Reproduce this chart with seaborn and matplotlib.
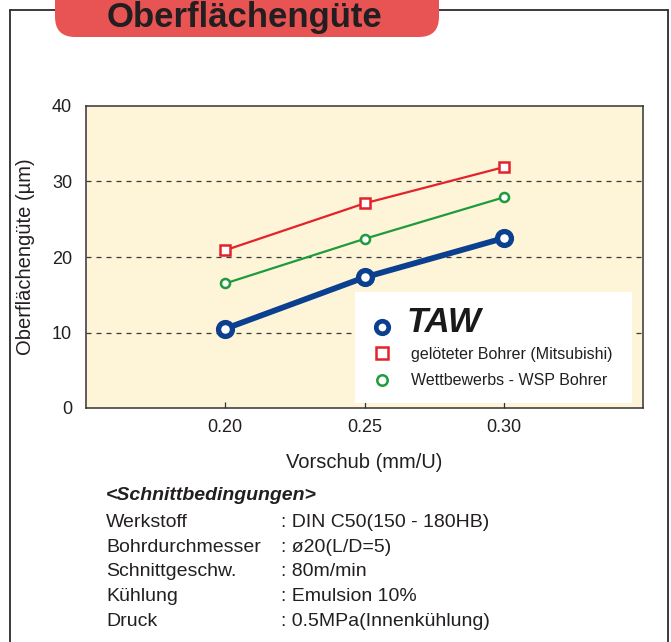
import matplotlib
matplotlib.use('Agg')
import matplotlib.pyplot as plt
import seaborn as sns
import pandas as pd
from matplotlib.lines import Line2D
from matplotlib.patches import FancyBboxPatch, Rectangle

# Data
feed = [0.20, 0.25, 0.30]
taw = [10.5, 17.3, 22.5]
mitsubishi = [20.9, 27.1, 31.9]
wsp = [16.5, 22.4, 27.9]
series_names = ['TAW', 'gelöteter Bohrer (Mitsubishi)', 'Wettbewerbs - WSP Bohrer']
y_ticks = [0, 10, 20, 30, 40]
x_ticks = [0.20, 0.25, 0.30]
x_ticklabels = ['0.20', '0.25', '0.30']
cond_keys = ['Werkstoff', 'Bohrdurchmesser', 'Schnittgeschw.', 'Kühlung', 'Druck']
cond_vals = [': DIN C50(150 - 180HB)', ': ø20(L/D=5)', ': 80m/min', ': Emulsion 10%', ': 0.5MPa(Innenkühlung)']

blue = '#0b3f8f'
red = '#e2232b'
green = '#1e9b3c'
text_col = '#231f20'

# Theme and fonts
sns.set_theme(style='white')
plt.rcParams['font.family'] = ['Liberation Sans', 'DejaVu Sans']

W, H = 671, 642
fig = plt.figure(figsize=(W / 100, H / 100), dpi=100)

def fx(px):
    return px / W

def fy(py):
    return (H - py) / H

# Axes placed like the reference (pixel box 86..643 x 106..408)
AX_L, AX_R, AX_T, AX_B = 86, 643, 106, 408
ax = fig.add_axes([fx(AX_L), fy(AX_B), fx(AX_R) - fx(AX_L), fy(AX_T) - fy(AX_B)])
ax.set_facecolor('#fef4d8')

def ax_x(px):
    return (px - AX_L) / (AX_R - AX_L)

def ax_y(py):
    return (AX_B - py) / (AX_B - AX_T)

df = pd.DataFrame({'Vorschub': feed * 3,
                   'Wert': taw + mitsubishi + wsp,
                   'Serie': [series_names[0]] * 3 + [series_names[1]] * 3 + [series_names[2]] * 3})

styles = {
    series_names[1]: dict(color=red, lw=1.6, marker='s', ms=7, mew=1.8, z=3),
    series_names[2]: dict(color=green, lw=1.6, marker='o', ms=6.5, mew=1.8, z=3),
    series_names[0]: dict(color=blue, lw=4.2, marker='o', ms=10, mew=3.8, z=4),
}
for name, st in styles.items():
    sub = df[df['Serie'] == name]
    sns.lineplot(data=sub, x='Vorschub', y='Wert', ax=ax, color=st['color'], lw=st['lw'],
                 marker=st['marker'], ms=st['ms'], mfc='white', mec=st['color'], mew=st['mew'],
                 zorder=st['z'], legend=False)

ax.set_xlim(0.15, 0.35)
ax.set_ylim(0, 40)
ax.set_xticks(x_ticks)
ax.set_xticklabels(x_ticklabels)
ax.set_yticks(y_ticks)
for yv in y_ticks[1:-1]:
    ax.axhline(yv, color='#3a3a3a', lw=0.9, ls=(0, (4, 4)), zorder=1)

ax.tick_params(axis='x', direction='in', length=4, width=0.9, color='#333333',
               labelsize=13, pad=8, labelcolor=text_col, bottom=True)
ax.tick_params(axis='y', length=0, labelsize=13, pad=10, labelcolor=text_col)
for sp in ax.spines.values():
    sp.set_color('#333333')
    sp.set_linewidth(1.1)

ax.set_xlabel('Vorschub (mm/U)', fontsize=14.5, color=text_col, labelpad=12)
ax.set_ylabel('Oberflächengüte (µm)', fontsize=14.5, color=text_col, labelpad=12)

# Legend: white panel + two legend blocks
ax.add_patch(Rectangle((ax_x(355), ax_y(403)), ax_x(632) - ax_x(355), ax_y(292) - ax_y(403),
                       transform=ax.transAxes, facecolor='white', edgecolor='none', zorder=5))

leg_kw = dict(loc='center left', borderaxespad=0, borderpad=0, frameon=False,
              fontsize=11.5, handlelength=1.0)
leg1 = ax.legend([Line2D([], [], ls='none', marker='o', ms=9, mfc='white', mec=blue, mew=3.4)],
                 series_names[:1], bbox_to_anchor=(ax_x(374), ax_y(323)),
                 handletextpad=1.05, **leg_kw)
t = leg1.get_texts()[0]
t.set_fontsize(25)
t.set_fontweight('bold')
t.set_fontstyle('italic')
t.set_color('#1a1a1a')
leg1.set_zorder(6)
ax.add_artist(leg1)

leg2 = ax.legend([Line2D([], [], ls='none', marker='s', ms=8, mfc='white', mec=red, mew=1.8),
                  Line2D([], [], ls='none', marker='o', ms=7.5, mfc='white', mec=green, mew=1.8)],
                 series_names[1:], bbox_to_anchor=(ax_x(374), ax_y(367.5)),
                 handletextpad=1.31, labelspacing=0.75, **leg_kw)
for t in leg2.get_texts():
    t.set_color(text_col)
leg2.set_zorder(6)

# Outer frame
frame_kw = dict(color='#2b2b2b', lw=1.3, transform=fig.transFigure, zorder=0)
fig.add_artist(Line2D([fx(9.5), fx(9.5)], [fy(9.5), fy(H + 5)], **frame_kw))
fig.add_artist(Line2D([fx(9.5), fx(668)], [fy(9.5), fy(9.5)], **frame_kw))
fig.add_artist(Line2D([fx(668), fx(668)], [fy(9.5), fy(H + 5)], **frame_kw))

# Title badge
badge = FancyBboxPatch((fx(55), fy(37)), fx(439) - fx(55), fy(-30) - fy(37),
                       boxstyle='round,pad=0,rounding_size=0.03',
                       transform=fig.transFigure, facecolor='#e85454', edgecolor='none',
                       zorder=2, mutation_aspect=W / H)
fig.add_artist(badge)
fig.text(fx(244), fy(26.5), 'Oberflächengüte', fontsize=25, fontweight='bold',
         color='#231f20', ha='center', va='baseline', zorder=3)

# Cutting conditions
fig.text(fx(106), fy(500.5), '<Schnittbedingungen>', fontsize=14, fontweight='bold',
         fontstyle='italic', color=text_col, va='baseline')
for i, (k, v) in enumerate(zip(cond_keys, cond_vals)):
    yb = 526.7 + i * 24.9
    fig.text(fx(106), fy(yb), k, fontsize=14, color=text_col, va='baseline')
    fig.text(fx(281), fy(yb), v, fontsize=14, color=text_col, va='baseline')

fig.savefig('out.png', dpi=100)
